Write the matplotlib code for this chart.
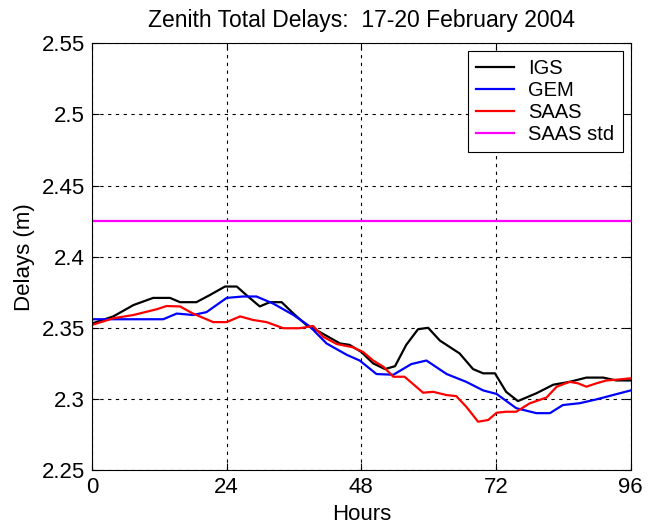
import matplotlib
matplotlib.use("Agg")

import matplotlib.pyplot as plt

#data (hours, delay in m)
igs_hours = [0, 3.8, 7.4, 10.9, 13.9, 15.7, 18.6, 21, 23.7, 25.8, 27.8, 29.9, 31.7, 33.8,
             35.9, 38.2, 40.6, 42.4, 44.2, 45.9, 48, 50.1, 52.2, 54, 56, 58.1, 59.9, 62,
             65.5, 67.9, 69.7, 71.8, 73.8, 75.9, 79.2, 82.2, 85.1, 88.1, 91.1, 93.4, 96]
igs_vals = [2.353, 2.358, 2.366, 2.371, 2.371, 2.368, 2.368, 2.373, 2.379, 2.379, 2.372, 2.365,
            2.368, 2.368, 2.360, 2.352, 2.347, 2.343, 2.339, 2.338, 2.333, 2.325, 2.321, 2.323,
            2.338, 2.349, 2.350, 2.341, 2.332, 2.321, 2.318, 2.318, 2.305, 2.2985, 2.304, 2.310,
            2.312, 2.315, 2.315, 2.313, 2.313]

gem_hours = [0, 12.7, 15.1, 18, 20.4, 24, 26.9, 29.3, 32.3, 35.9, 38.8, 41.8, 45.4, 47.7,
             50.7, 53.7, 56.9, 59.6, 63.2, 66.7, 69.7, 72.1, 75.6, 79.2, 81.6, 83.9, 86.9,
             89.9, 92.8, 96]
gem_vals = [2.356, 2.356, 2.360, 2.359, 2.361, 2.371, 2.372, 2.372, 2.367, 2.359, 2.351, 2.339,
            2.331, 2.327, 2.3175, 2.317, 2.3245, 2.327, 2.3175, 2.312, 2.306, 2.3035, 2.2935,
            2.290, 2.290, 2.2957, 2.297, 2.2997, 2.3027, 2.306]

saas_hours = [0, 3.8, 7.4, 11.5, 13.3, 15.7, 18, 21.6, 24, 26.4, 28.7, 31.1, 34.1, 37, 39.4,
              41.2, 43.6, 46.5, 48.3, 50.1, 51.9, 53.7, 55.7, 59, 60.8, 63.2, 64.9, 66.7,
              68.8, 70.6, 72.1, 73.8, 75.6, 78, 81, 82.8, 85.1, 86.6, 88.1, 89.9, 91.7, 93.4, 96]
saas_vals = [2.352, 2.3567, 2.359, 2.363, 2.3653, 2.365, 2.360, 2.354, 2.354, 2.358, 2.3555,
             2.354, 2.3497, 2.3497, 2.3513, 2.3437, 2.3386, 2.3363, 2.333, 2.327, 2.3227, 2.3156,
             2.3156, 2.3044, 2.305, 2.3027, 2.302, 2.2945, 2.284, 2.2852, 2.2903, 2.291, 2.291,
             2.2969, 2.301, 2.3086, 2.312, 2.311, 2.3086, 2.311, 2.313, 2.3135, 2.3145]

saas_std = 2.425

x_ticks = [0, 24, 48, 72, 96]
y_ticks = [2.25, 2.3, 2.35, 2.4, 2.45, 2.5, 2.55]
y_ticklabels = ["2.25", "2.3", "2.35", "2.4", "2.45", "2.5", "2.55"]

plt.rcParams['font.family'] = ['Liberation Sans', 'DejaVu Sans']

fig = plt.figure(figsize=(6.57, 5.27), dpi=100)
ax = fig.add_axes([0.140, 0.108, 0.820, 0.810])

ax.plot(igs_hours, igs_vals, color='black', linewidth=1.6, label="IGS")
ax.plot(gem_hours, gem_vals, color='blue', linewidth=1.6, label="GEM")
ax.plot(saas_hours, saas_vals, color='red', linewidth=1.6, label="SAAS")
ax.axhline(saas_std, color='magenta', linewidth=1.6, label="SAAS std")

ax.set_xlim(0, 96)
ax.set_ylim(2.25, 2.55)
ax.set_xticks(x_ticks)
ax.set_yticks(y_ticks)
ax.set_yticklabels(y_ticklabels)

#matlab style dotted grid, ticks inside on all sides
ax.grid(True, color='black', linestyle=(0, (3, 4)), linewidth=0.8)
ax.tick_params(direction='in', top=True, right=True, labelsize=16, length=5, pad=5)
for s in ax.spines.values():
    s.set_linewidth(0.8)

ax.set_title("Zenith Total Delays:  17-20 February 2004", fontsize=16.5, pad=12)
ax.set_xlabel("Hours", fontsize=16, labelpad=4)
ax.set_ylabel("Delays (m)", fontsize=16, labelpad=5)

leg = ax.legend(loc='upper right', bbox_to_anchor=(0.985, 0.981), borderaxespad=0,
                fontsize=14.5, fancybox=False, framealpha=1, edgecolor='black',
                handlelength=1.9, handletextpad=0.7, labelspacing=0.15, borderpad=0.4)
leg.get_frame().set_linewidth(0.8)

plt.savefig("out.png", dpi=100)
